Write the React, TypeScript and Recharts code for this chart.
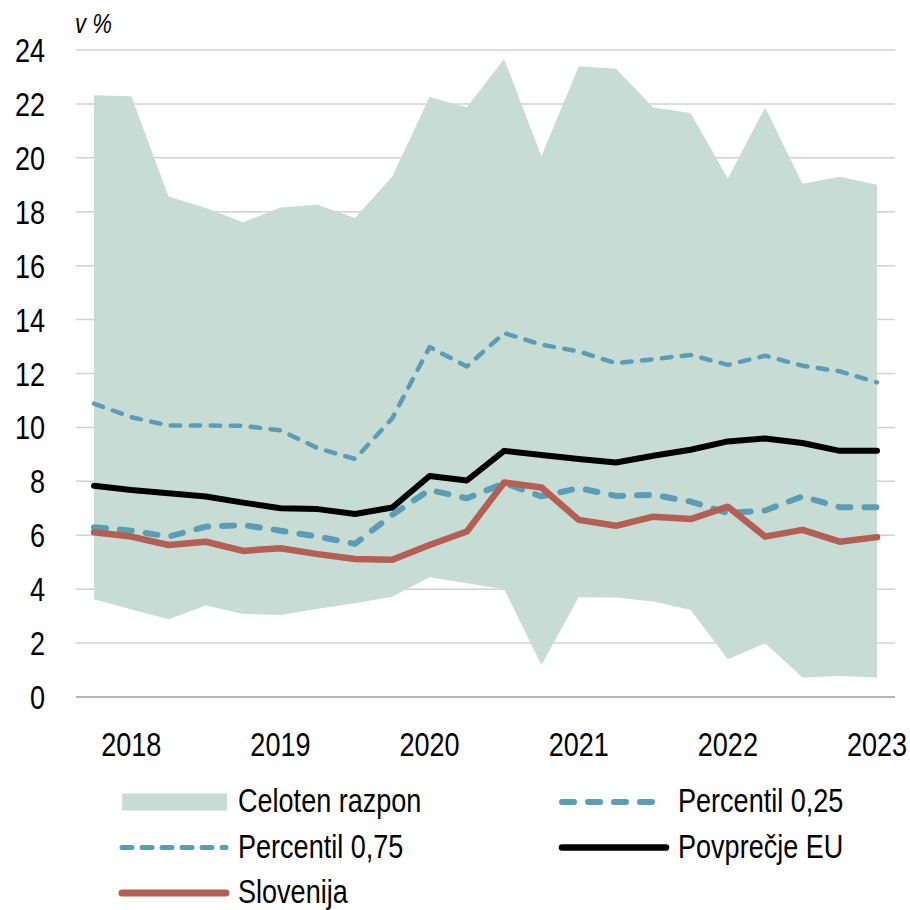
import React from 'react';
import { ComposedChart, Area, Line, XAxis, YAxis, CartesianGrid } from 'recharts';

// Četrtletja 2017Q4 – 2023Q1
const quarters = [
  '2017Q4', '2018Q1', '2018Q2', '2018Q3', '2018Q4', '2019Q1', '2019Q2', '2019Q3', '2019Q4',
  '2020Q1', '2020Q2', '2020Q3', '2020Q4', '2021Q1', '2021Q2', '2021Q3', '2021Q4',
  '2022Q1', '2022Q2', '2022Q3', '2022Q4', '2023Q1',
];
const yearTicks = ['2018Q1', '2019Q1', '2020Q1', '2021Q1', '2022Q1', '2023Q1'];
const yTicks = [0, 2, 4, 6, 8, 10, 12, 14, 16, 18, 20, 22, 24];

const rangeMax = [22.32, 22.28, 18.57, 18.14, 17.61, 18.16, 18.26, 17.77, 19.31, 22.26, 21.88, 23.67, 20.06, 23.4, 23.3, 21.87, 21.66, 19.23, 21.87, 19.04, 19.3, 19.0];
const rangeMin = [3.63, 3.25, 2.88, 3.39, 3.08, 3.04, 3.27, 3.48, 3.72, 4.44, 4.22, 4.0, 1.19, 3.7, 3.69, 3.54, 3.23, 1.4, 1.99, 0.72, 0.78, 0.72];
const p75 = [10.88, 10.38, 10.07, 10.07, 10.06, 9.89, 9.23, 8.83, 10.34, 12.98, 12.26, 13.5, 13.07, 12.82, 12.38, 12.53, 12.69, 12.32, 12.66, 12.29, 12.08, 11.67];
const p25 = [6.3, 6.17, 5.95, 6.32, 6.38, 6.17, 5.95, 5.68, 6.76, 7.68, 7.37, 7.93, 7.44, 7.75, 7.46, 7.5, 7.25, 6.82, 6.92, 7.44, 7.04, 7.04];
const euAvg = [7.84, 7.68, 7.56, 7.44, 7.21, 7.0, 6.97, 6.79, 7.03, 8.2, 8.03, 9.13, 8.98, 8.83, 8.7, 8.95, 9.17, 9.48, 9.59, 9.42, 9.13, 9.13];
const slovenia = [6.11, 5.95, 5.64, 5.76, 5.42, 5.52, 5.3, 5.12, 5.09, 5.64, 6.14, 7.96, 7.77, 6.57, 6.35, 6.69, 6.6, 7.06, 5.95, 6.2, 5.76, 5.93];

const data = quarters.map((q, i) => ({
  q,
  range: [rangeMin[i], rangeMax[i]],
  p75: p75[i],
  p25: p25[i],
  eu: euAvg[i],
  si: slovenia[i],
}));

const FONT = '"Liberation Sans", Arial, sans-serif';
const AREA = '#c8dcd6';
const BLUE = '#5c9db4';
const RED = '#b55e53';

const legendItems = [
  { name: 'Celoten razpon', kind: 'rect', color: AREA },
  { name: 'Percentil 0,25', kind: 'line', color: BLUE, width: 6, dash: '12 14' },
  { name: 'Percentil 0,75', kind: 'line', color: BLUE, width: 5, dash: '10 10' },
  { name: 'Povprečje EU', kind: 'line', color: '#000', width: 6.5 },
  { name: 'Slovenija', kind: 'line', color: RED, width: 7 },
];

const NarrowText = ({ x, y, anchor = 'start', size = 33, italic = false, children }: any) => (
  <text
    transform={`translate(${x},${y}) scale(0.82,1)`}
    textAnchor={anchor}
    fontFamily={FONT}
    fontSize={size}
    fontStyle={italic ? 'italic' : 'normal'}
    fill="#000"
  >
    {children}
  </text>
);

const YTick = ({ y, payload }: any) => (
  <NarrowText x={45} y={y + 12} anchor="end">{payload.value}</NarrowText>
);

const XTick = ({ x, y, payload }: any) => (
  <NarrowText x={x} y={y + 51} anchor="middle">{String(payload.value).slice(0, 4)}</NarrowText>
);

const LegendOverlay = () => (
  <svg width={910} height={910} style={{ position: 'absolute', left: 0, top: 0 }}>
    <NarrowText x={75} y={33} size={27} italic>v %</NarrowText>
    {legendItems.map((it, i) => {
      const col = i % 2;
      const row = Math.floor(i / 2);
      const x0 = col === 0 ? 122 : 562;
      const cy = 802 + row * 45.5;
      return (
        <g key={it.name}>
          {it.kind === 'rect' ? (
            <rect x={x0} y={cy - 8.5} width={105} height={17} fill={it.color} />
          ) : (
            <line
              x1={x0} x2={x0 + 104} y1={cy} y2={cy}
              stroke={it.color} strokeWidth={it.width}
              strokeDasharray={it.dash} strokeLinecap="round"
            />
          )}
          <NarrowText x={x0 + 116} y={cy + 10}>{it.name}</NarrowText>
        </g>
      );
    })}
  </svg>
);

const App = () => {
  return (
    <div style={{ position: 'absolute', left: 0, top: 0, width: 910, height: 910, background: '#fff' }}>
      <ComposedChart width={910} height={910} data={data} margin={{ top: 50, right: 15, bottom: 153, left: 0 }}>
        <CartesianGrid vertical={false} stroke="#d2d2d2" strokeWidth={1.5} />
        <XAxis
          dataKey="q"
          ticks={yearTicks}
          interval={0}
          tick={<XTick />}
          tickLine={false}
          axisLine={{ stroke: '#b4b4b4', strokeWidth: 2 }}
          height={60}
          padding={{ left: 18, right: 18 }}
        />
        <YAxis
          domain={[0, 24]}
          ticks={yTicks}
          tick={<YTick />}
          tickLine={false}
          axisLine={false}
          width={76}
        />
        <Area
          type="linear"
          dataKey="range"
          stroke="none"
          fill={AREA}
          fillOpacity={1}
          isAnimationActive={false}
        />
        <Line type="linear" dataKey="p75" stroke={BLUE} strokeWidth={4.5} strokeDasharray="9.5 10.5" strokeLinecap="round" strokeLinejoin="round" dot={false} isAnimationActive={false} />
        <Line type="linear" dataKey="p25" stroke={BLUE} strokeWidth={6} strokeDasharray="12 14" strokeLinecap="round" strokeLinejoin="round" dot={false} isAnimationActive={false} />
        <Line type="linear" dataKey="eu" stroke="#000" strokeWidth={6} strokeLinecap="round" strokeLinejoin="round" dot={false} isAnimationActive={false} />
        <Line type="linear" dataKey="si" stroke={RED} strokeWidth={6.5} strokeLinecap="round" strokeLinejoin="round" dot={false} isAnimationActive={false} />
      </ComposedChart>
      <LegendOverlay />
    </div>
  );
};

export default App;
